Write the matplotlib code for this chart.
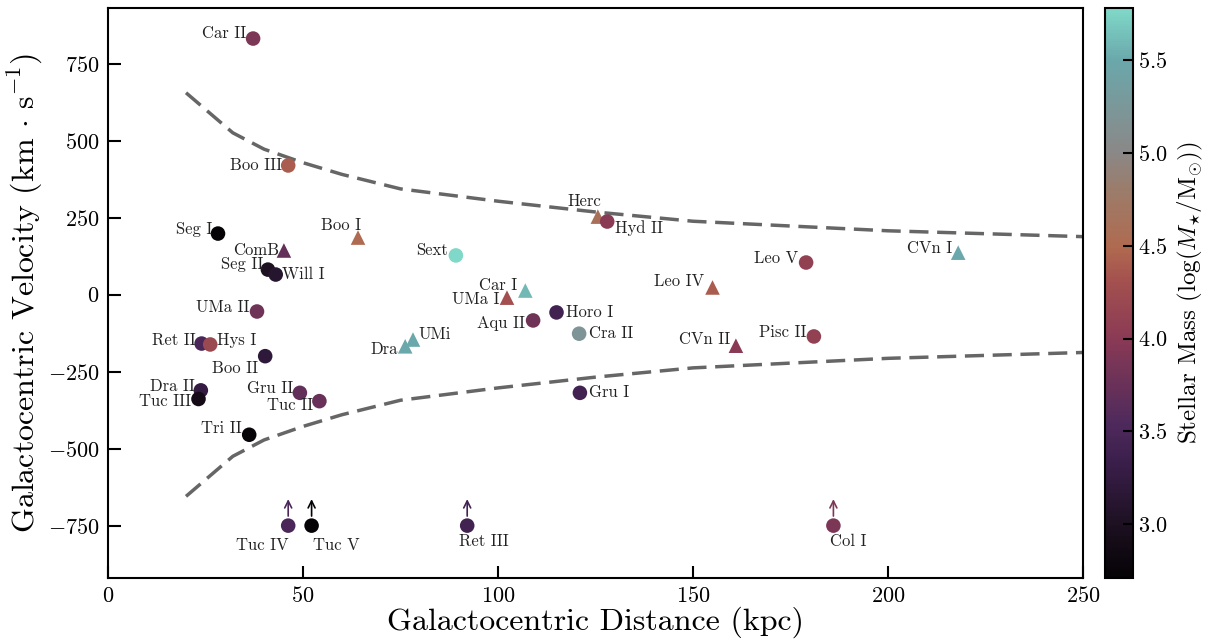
import numpy as np
import matplotlib
matplotlib.use("Agg")
import matplotlib.pyplot as plt
from matplotlib.colors import LinearSegmentedColormap, Normalize

plt.rcParams['font.family'] = 'serif'
plt.rcParams['font.serif'] = ['cmr10']
plt.rcParams['mathtext.fontset'] = 'cm'
plt.rcParams['axes.formatter.use_mathtext'] = True
plt.rcParams['axes.unicode_minus'] = True

# galaxy data: name, distance (kpc), velocity (km/s), log stellar mass, marker
names = ['Car II', 'Boo III', 'Seg I', 'ComB', 'Boo I', 'Sext', 'Seg II', 'Will I',
         'Herc', 'Hyd II', 'CVn I', 'Leo V', 'Car I', 'UMa I', 'Leo IV', 'Horo I',
         'Aqu II', 'UMa II', 'Cra II', 'CVn II', 'Pisc II', 'Dra', 'UMi', 'Ret II',
         'Hys I', 'Boo II', 'Dra II', 'Tuc III', 'Gru II', 'Tuc II', 'Tri II',
         'Gru I', 'Tuc IV', 'Tuc V', 'Ret III', 'Col I']
dist = [37.2, 46.2, 28.2, 45.1, 64.1, 89.2, 41.0, 43.0,
        125.6, 128.0, 218.0, 179.0, 107.0, 102.3, 155.0, 115.0,
        109.0, 38.2, 120.8, 161.0, 181.0, 76.2, 78.2, 24.0,
        26.2, 40.3, 23.8, 23.2, 49.2, 54.2, 36.2,
        121.0, 46.2, 52.2, 92.1, 186.0]
vel = [831, 419, 198, 143, 185, 127, 81, 65,
       253, 237, 136, 104, 13, -10, 23, -58,
       -84, -55, -127, -166, -136, -168, -146, -159,
       -162, -200, -311, -339, -319, -346, -455,
       -319, -750, -750, -750, -750]
logmass = [3.9, 4.4, 2.72, 3.7, 4.5, 5.78, 3.0, 3.1,
           4.6, 4.0, 5.5, 4.1, 5.6, 4.3, 4.4, 3.4,
           3.8, 3.8, 5.2, 4.0, 4.1, 5.5, 5.5, 3.5,
           4.2, 3.2, 3.25, 2.9, 3.7, 3.75, 2.75,
           3.4, 3.5, 2.71, 3.4, 3.9]
triangles = ['ComB', 'Boo I', 'Herc', 'CVn I', 'Car I', 'UMa I', 'Leo IV', 'CVn II', 'Dra', 'UMi']
lower_limits = ['Tuc IV', 'Tuc V', 'Ret III', 'Col I']

# escape velocity curve
esc_dist = [20, 32, 40, 50, 60, 75, 100, 125, 150, 200, 250]
esc_vel = [655, 525, 472, 428, 390, 343, 303, 268, 238, 207, 188]

# label placement: offset in pixels, horizontal alignment
label_pos = {
    'Car II': (-7, 5, 'right'), 'Boo III': (-6, 0, 'right'), 'Seg I': (-6, 4, 'right'),
    'ComB': (-5, 0, 'right'), 'Boo I': (3, 12, 'right'), 'Sext': (-8, 5, 'right'),
    'Seg II': (-5, 5, 'right'), 'Will I': (6, 0, 'left'), 'Herc': (3, 15, 'right'),
    'Hyd II': (8, -7, 'left'), 'CVn I': (-6, 4, 'right'), 'Leo V': (-8, 4, 'right'),
    'Car I': (-8, 5, 'right'), 'UMa I': (-7, -2, 'right'), 'Leo IV': (-8, 6, 'right'),
    'Horo I': (9, 0, 'left'), 'Aqu II': (-8, -3, 'right'), 'UMa II': (-7, 4, 'right'),
    'Cra II': (10, 0, 'left'), 'CVn II': (-6, 6, 'right'), 'Pisc II': (-7, 4, 'right'),
    'Dra': (-7, -3, 'right'), 'UMi': (5, 5, 'left'), 'Ret II': (-6, 3, 'right'),
    'Hys I': (7, 4, 'left'), 'Boo II': (-7, -12, 'right'), 'Dra II': (-6, 4, 'right'),
    'Tuc III': (-7, -2, 'right'), 'Gru II': (-7, 4, 'right'), 'Tuc II': (-6, -4, 'right'),
    'Tri II': (-7, 6, 'right'), 'Gru I': (9, 0, 'left'), 'Tuc IV': (0, -20, 'right'),
    'Tuc V': (1, -20, 'left'), 'Ret III': (-8, -16, 'left'), 'Col I': (-3, -16, 'left'),
}

colors_cm = [(0.0, '#050306'), (0.09, '#1c1020'), (0.2, '#3a1e4a'), (0.27, '#4e2a5c'),
             (0.42, '#8a3a55'), (0.52, '#a4504f'), (0.58, '#b06a50'), (0.68, '#9c7c6a'),
             (0.75, '#8a8888'), (0.91, '#6aa8ab'), (1.0, '#80d8c8')]
cmap = LinearSegmentedColormap.from_list('mass', colors_cm)
norm = Normalize(vmin=min(logmass), vmax=max(logmass))

fig = plt.figure(figsize=(12.11, 6.44), dpi=100)
ax = fig.add_axes([0.0892, 0.1025, 0.8051, 0.885])
cax = fig.add_axes([0.9125, 0.1025, 0.0231, 0.885])

ax.plot(esc_dist, esc_vel, color='#666666', lw=2.5, dashes=(5.5, 2.5), zorder=1)
ax.plot(esc_dist, [-v for v in esc_vel], color='#666666', lw=2.5, dashes=(5.5, 2.5), zorder=1)

for i, name in enumerate(names):
    marker = '^' if name in triangles else 'o'
    ax.scatter(dist[i], vel[i], c=[logmass[i]], cmap=cmap, norm=norm,
               marker=marker, s=110, edgecolors='none', zorder=3)
    dx, dy, ha = label_pos[name]
    ax.annotate(name, (dist[i], vel[i]), xytext=(dx, dy), textcoords='offset pixels',
                ha=ha, va='center', fontsize=12, color='#222222', zorder=4)
    if name in lower_limits:
        ax.annotate('', xy=(dist[i], vel[i] + 95), xytext=(dist[i], vel[i] + 22),
                    arrowprops=dict(arrowstyle='->,head_length=0.5,head_width=0.25',
                                    color=cmap(norm(logmass[i])), lw=1.2),
                    zorder=3)

ax.set_xlim(0, 250)
ax.set_ylim(-920, 930)
ax.set_xticks([0, 50, 100, 150, 200, 250])
ax.set_yticks([-750, -500, -250, 0, 250, 500, 750])
ax.set_xlabel('Galactocentric Distance (kpc)', fontsize=23, labelpad=0)
ax.set_ylabel(r'Galactocentric Velocity $(\mathrm{km}\,\cdot\,\mathrm{s}^{-1})$', fontsize=23, labelpad=2)
ax.tick_params(axis='both', direction='in', length=9, width=1.5, labelsize=16, pad=6)
for spine in ax.spines.values():
    spine.set_linewidth(1.5)

sm = plt.cm.ScalarMappable(norm=norm, cmap=cmap)
cbar = fig.colorbar(sm, cax=cax)
cbar.set_ticks([3.0, 3.5, 4.0, 4.5, 5.0, 5.5])
cbar.ax.tick_params(direction='in', length=7, width=1.5, labelsize=16)
cbar.outline.set_linewidth(1.5)
cbar.set_label(r'Stellar Mass $(\log(M_{\star}/\mathrm{M}_{\odot}))$', fontsize=18, labelpad=6)

fig.savefig('out.png', dpi=100)
